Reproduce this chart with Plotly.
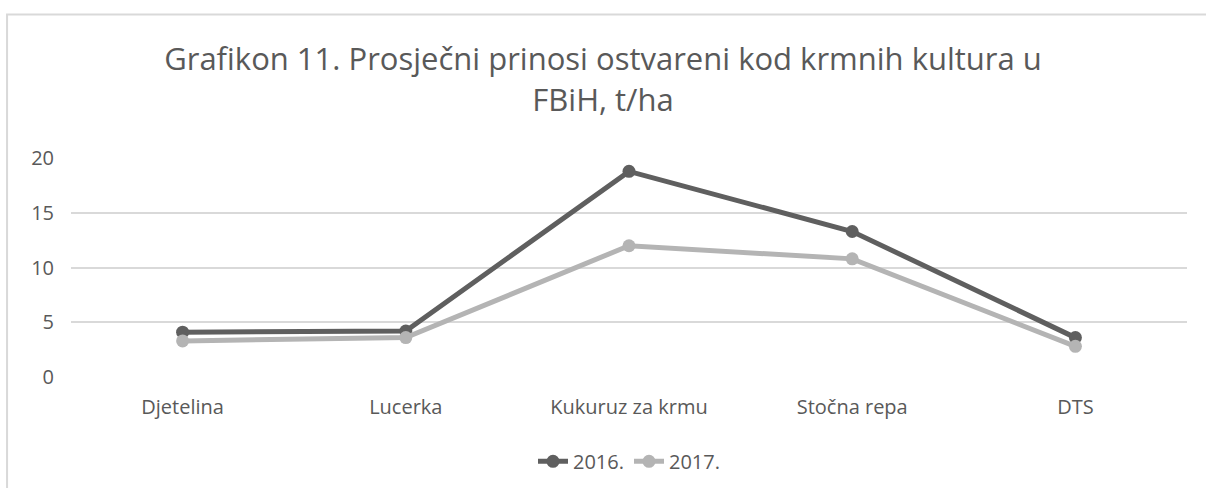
import plotly.graph_objects as go

categories = ["Djetelina", "Lucerka", "Kukuruz za krmu", "Stočna repa", "DTS"]
values_2016 = [4.1, 4.2, 18.8, 13.3, 3.6]
values_2017 = [3.3, 3.6, 12.0, 10.8, 2.8]
y_ticks = [0, 5, 10, 15, 20]

font_family = "Open Sans"

fig = go.Figure()
fig.add_trace(go.Scatter(
    x=categories, y=values_2016, name="2016.", mode="lines+markers",
    line=dict(color="#5f5f5f", width=5), marker=dict(size=13, color="#5f5f5f"),
))
fig.add_trace(go.Scatter(
    x=categories, y=values_2017, name="2017.", mode="lines+markers",
    line=dict(color="#b4b4b4", width=5), marker=dict(size=13, color="#b4b4b4"),
))

fig.update_layout(
    width=1206, height=488,
    margin=dict(l=71, r=19, t=158, b=111, autoexpand=False),
    paper_bgcolor="white", plot_bgcolor="white",
    font=dict(family=font_family, color="#595959", size=20),
    title=dict(
        text="Grafikon 11. Prosječni prinosi ostvareni kod krmnih kultura u<br>FBiH, t/ha",
        x=0.5, xanchor="center", y=0.856, yanchor="middle",
        font=dict(size=31, color="#595959", family=font_family),
    ),
    xaxis=dict(
        type="category", showgrid=False, showline=False, zeroline=False,
        ticks="", tickfont=dict(size=20, color="#595959"), range=[-0.5, 4.5],
        ticklabelstandoff=16,
    ),
    yaxis=dict(
        range=[0, 20.02], tickvals=y_ticks, showgrid=True, gridcolor="#d9d9d9",
        gridwidth=1.5, zeroline=False, showline=False, ticks="",
        tickfont=dict(size=20, color="#595959"), ticklabelstandoff=16,
    ),
    legend=dict(
        orientation="h", x=0.5, xanchor="center", y=-0.385, yanchor="middle",
        font=dict(size=20, color="#595959"),
    ),
    showlegend=True,
)

fig.add_shape(
    type="rect", xref="paper", yref="paper",
    x0=-0.0573, x1=1.1, y0=-0.8, y1=1.655,
    line=dict(color="#d9d9d9", width=2), fillcolor="rgba(0,0,0,0)", layer="below",
)

fig.write_html("out.html", config={"displayModeBar": False},
               post_script="document.body.style.margin='0';")
